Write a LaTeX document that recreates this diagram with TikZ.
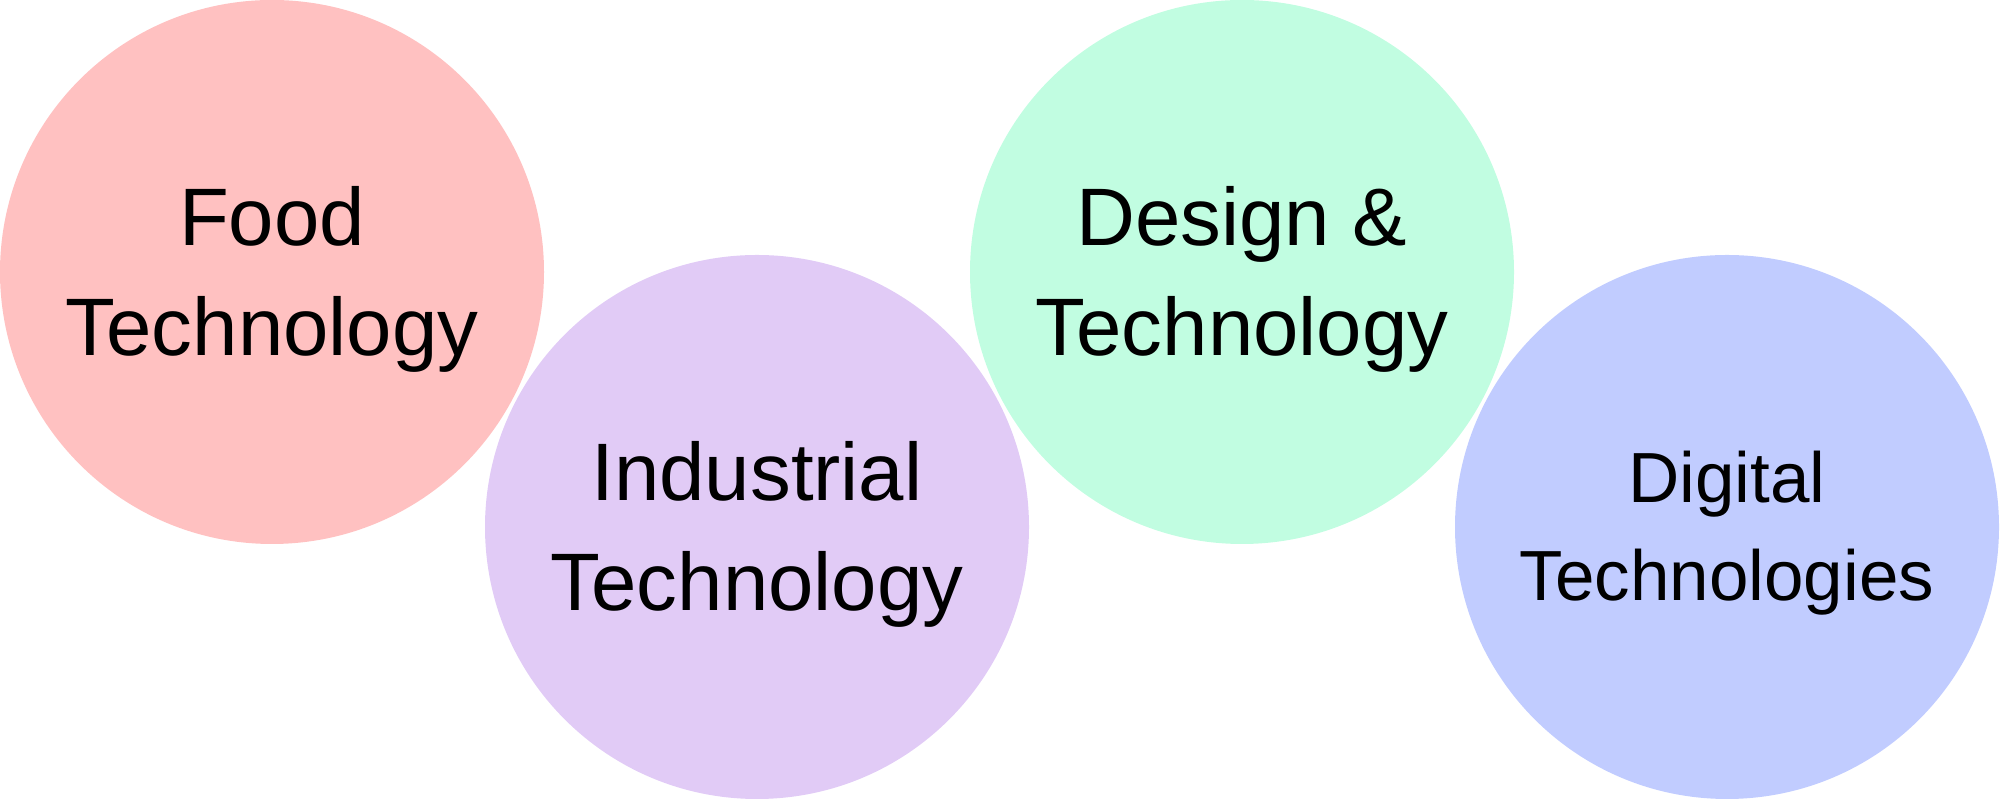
\documentclass[tikz,border=0pt]{standalone}
\usepackage{fontspec}
\setmainfont{Liberation Sans}
\definecolor{foodc}{HTML}{FFC1C1}
\definecolor{indc}{HTML}{E1CBF6}
\definecolor{desc}{HTML}{C1FDE1}
\definecolor{digc}{HTML}{C1CCFF}
\tikzset{
  bubble/.style={circle, minimum size=5.44cm, inner sep=0pt, draw=none, fill=#1},
  lbl/.style={align=center, inner sep=0pt, yshift=-0.07cm, font=\fontsize{23.2}{31.3}\selectfont, text=black},
  lblsmall/.style={align=center, inner sep=0pt, yshift=-0.06cm, font=\fontsize{20.2}{27.9}\selectfont, text=black}
}
\begin{document}
\begin{tikzpicture}
\useasboundingbox (0,0) rectangle (20,8);
\node[bubble=foodc] (food) at (2.72,5.28) {};
\node[bubble=indc] (ind) at (7.57,2.73) {};
\node[bubble=desc] (des) at (12.42,5.28) {};
\node[bubble=digc] (dig) at (17.27,2.73) {};
\node[lbl] (foodt) at (food.center) {Food\\Technology};
\node[lbl] (indt) at (ind.center) {Industrial\\Technology};
\node[lbl] (dest) at (des.center) {Design \&\\Technology};
\node[lblsmall] (digt) at (dig.center) {Digital\\Technologies};
\end{tikzpicture}
\end{document}
